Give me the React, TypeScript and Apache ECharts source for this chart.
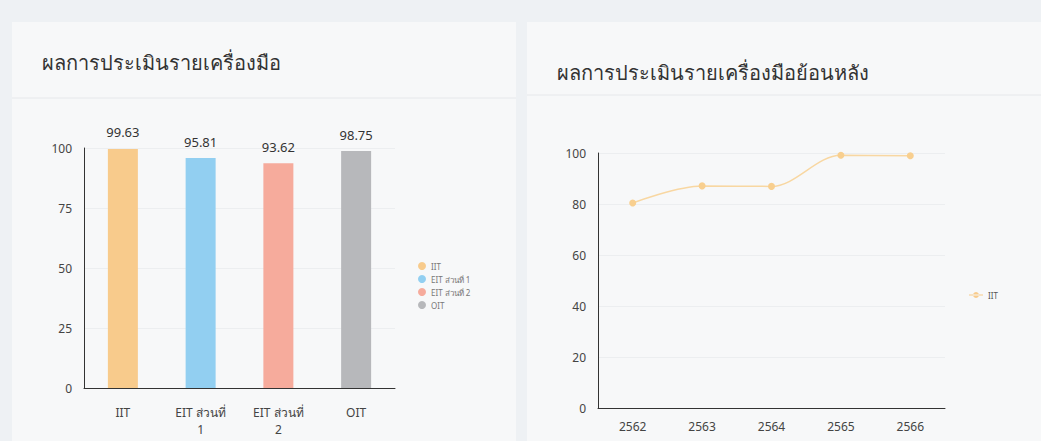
import React, { useEffect, useRef } from "react";
import * as echarts from "echarts";

const barTitle = "ผลการประเมินรายเครื่องมือ";
const lineTitle = "ผลการประเมินรายเครื่องมือย้อนหลัง";
const barCategories = ["IIT", "EIT ส่วนที่ 1", "EIT ส่วนที่ 2", "OIT"];
const barValues = [99.63, 95.81, 93.62, 98.75];
const barColors = ["#f8cb8c", "#92cff1", "#f6ab9c", "#b7b8bb"];
const years = ["2562", "2563", "2564", "2565", "2566"];
const iitHistory = [80.4, 87.1, 86.9, 99.1, 98.9];
const lineSeriesName = "IIT";

const FONT = "'Noto Sans', Roboto, sans-serif";

export default function App() {
  const ref = useRef<HTMLDivElement>(null);
  useEffect(() => {
    if (!ref.current) return;
    const chart = echarts.init(ref.current, undefined, { renderer: "svg" });
    const barSeries = barCategories.map((name, i) => ({
      name,
      type: "bar",
      xAxisIndex: 0,
      yAxisIndex: 0,
      stack: "bars",
      barWidth: 30,
      itemStyle: { color: barColors[i] },
      label: {
        show: true,
        position: "top",
        distance: 10,
        color: "#333",
        fontSize: 13,
        fontFamily: FONT,
        formatter: () => barValues[i].toFixed(2),
      },
      data: barCategories.map((_, j) => (j === i ? barValues[i] : "-")),
    }));
    chart.setOption({
      animation: false,
      backgroundColor: "#eef1f4",
      textStyle: { fontFamily: FONT },
      graphic: [
        { type: "rect", shape: { x: 12, y: 22, width: 504, height: 430 }, style: { fill: "#f7f8f9" }, z: -10 },
        { type: "rect", shape: { x: 527, y: 22, width: 520, height: 430 }, style: { fill: "#f7f8f9" }, z: -10 },
        { type: "line", shape: { x1: 12, y1: 98, x2: 516, y2: 98 }, style: { stroke: "#e6e8eb", lineWidth: 1 } },
        { type: "line", shape: { x1: 527, y1: 95, x2: 1041, y2: 95 }, style: { stroke: "#e6e8eb", lineWidth: 1 } },
        { type: "text", x: 42, y: 62, style: { text: barTitle, fontSize: 20, fill: "#333", fontFamily: FONT, verticalAlign: "middle" } },
        { type: "text", x: 557, y: 72, style: { text: lineTitle, fontSize: 20, fill: "#333", fontFamily: FONT, verticalAlign: "middle" } },
      ],
      legend: [
        {
          data: barCategories,
          orient: "vertical",
          left: 413,
          top: 257,
          itemGap: 5,
          itemWidth: 8,
          itemHeight: 8,
          icon: "circle",
          textStyle: { fontSize: 8, color: "#777", fontFamily: FONT },
        },
        {
          data: [lineSeriesName],
          orient: "vertical",
          left: 964,
          top: 286,
          itemWidth: 14,
          itemHeight: 8,
          icon: "path://M0,3.4h14v1.2H0z M7,1a3,3 0 1,0 0.01,0z",
          textStyle: { fontSize: 8, color: "#555", fontFamily: FONT },
        },
      ],
      grid: [
        { left: 84, right: 646, top: 148, bottom: 53 },
        { left: 598, right: 96, top: 153, bottom: 33 },
      ],
      xAxis: [
        {
          type: "category",
          gridIndex: 0,
          data: barCategories,
          axisLine: { lineStyle: { color: "#333" } },
          axisTick: { show: false },
          axisLabel: {
            color: "#444",
            fontSize: 12,
            margin: 16,
            lineHeight: 17,
            interval: 0,
            formatter: (v: string) => v.replace(/ (\d)$/, "\n$1"),
          },
        },
        {
          type: "category",
          gridIndex: 1,
          data: years,
          axisLine: { lineStyle: { color: "#333" } },
          axisTick: { show: false },
          axisLabel: { color: "#444", fontSize: 12, margin: 12 },
        },
      ],
      yAxis: [
        {
          type: "value",
          gridIndex: 0,
          min: 0,
          max: 100,
          interval: 25,
          axisLine: { show: true, lineStyle: { color: "#333" } },
          axisTick: { show: false },
          axisLabel: { color: "#444", fontSize: 12, margin: 12 },
          splitLine: { lineStyle: { color: "#eceef0" } },
        },
        {
          type: "value",
          gridIndex: 1,
          min: 0,
          max: 100,
          interval: 20,
          axisLine: { show: true, lineStyle: { color: "#333" } },
          axisTick: { show: false },
          axisLabel: { color: "#444", fontSize: 12, margin: 12 },
          splitLine: { lineStyle: { color: "#eceef0" } },
        },
      ],
      series: [
        ...barSeries,
        {
          name: lineSeriesName,
          type: "line",
          xAxisIndex: 1,
          yAxisIndex: 1,
          data: iitHistory,
          smooth: 0.35,
          smoothMonotone: "x",
          symbol: "circle",
          symbolSize: 7,
          itemStyle: { color: "#f8cf8f" },
          lineStyle: { color: "#f8d7a2", width: 1.5 },
        },
      ],
    });
    return () => chart.dispose();
  }, []);
  return (
    <div style={{ position: "fixed", left: 0, top: 0 }}>
      <div ref={ref} style={{ width: 1041, height: 441 }} />
    </div>
  );
}
